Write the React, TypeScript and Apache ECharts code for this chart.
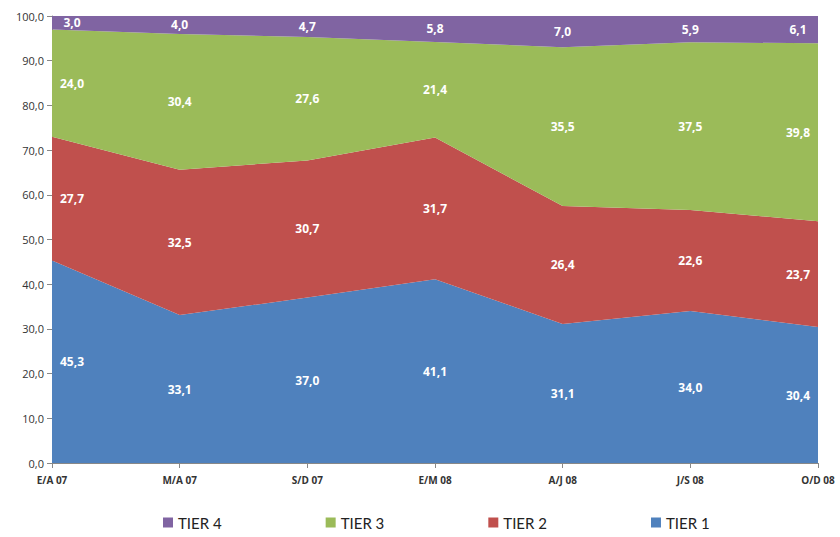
import React, { useEffect, useRef } from "react";
import * as echarts from "echarts";

const categories = ["E/A 07", "M/A 07", "S/D 07", "E/M 08", "A/J 08", "J/S 08", "O/D 08"];
const tier1 = [45.3, 33.1, 37.0, 41.1, 31.1, 34.0, 30.4];
const tier2 = [27.7, 32.5, 30.7, 31.7, 26.4, 22.6, 23.7];
const tier3 = [24.0, 30.4, 27.6, 21.4, 35.5, 37.5, 39.8];
const tier4 = [3.0, 4.0, 4.7, 5.8, 7.0, 5.9, 6.1];
const yTicks = { min: 0, max: 100, interval: 10 };

const W = 840;
const H = 537;
const GRID = { left: 52, right: 22, top: 16, bottom: 74 };

const fmt = (v: number) => v.toFixed(1).replace(".", ",");

export default function App() {
  const ref = useRef<HTMLDivElement>(null);
  useEffect(() => {
    document.body.style.margin = "0";
    const chart = echarts.init(ref.current!, null, { renderer: "svg" });
    const plotH = H - GRID.top - GRID.bottom;
    const pxPerUnit = plotH / (yTicks.max - yTicks.min);
    const n = categories.length;

    const mk = (name: string, values: number[], color: string) => ({
      name,
      type: "line",
      stack: "total",
      symbol: "circle",
      symbolSize: 0,
      lineStyle: { width: 0 },
      itemStyle: { color },
      areaStyle: { color, opacity: 1 },
      data: values.map((v, i) => ({
        value: v,
        label: {
          offset: [i === 0 ? 20 : i === n - 1 ? -20 : 0, (v * pxPerUnit) / 2],
        },
      })),
      label: {
        show: true,
        position: "inside",
        color: "#ffffff",
        fontWeight: "bold",
        fontSize: 12,
        fontFamily: "Open Sans",
        formatter: (p: any) => fmt(p.value),
      },
    });

    chart.setOption({
      animation: false,
      grid: { ...GRID, containLabel: false },
      legend: {
        bottom: 2,
        left: 158,
        itemGap: 104,
        itemWidth: 10,
        itemHeight: 10,
        icon: "rect",
        textStyle: { fontSize: 15, color: "#222", fontFamily: "Lato" },
        data: ["TIER 4", "TIER 3", "TIER 2", "TIER 1"],
      },
      xAxis: {
        type: "category",
        boundaryGap: false,
        data: categories,
        axisLine: { lineStyle: { color: "#888888" } },
        axisTick: { show: true, alignWithLabel: true, length: 5, lineStyle: { color: "#888888" } },
        axisLabel: { fontSize: 10, color: "#333", fontFamily: "Open Sans", fontWeight: "bold", margin: 12 },
        splitLine: { show: false },
      },
      yAxis: {
        type: "value",
        min: yTicks.min,
        max: yTicks.max,
        interval: yTicks.interval,
        axisLine: { show: true, lineStyle: { color: "#888888" } },
        axisTick: { show: true, length: 5, lineStyle: { color: "#888888" } },
        axisLabel: { fontSize: 11, color: "#333", fontFamily: "Open Sans", formatter: (v: number) => fmt(v), margin: 8 },
        splitLine: { show: false },
      },
      series: [
        mk("TIER 1", tier1, "#4F81BD"),
        mk("TIER 2", tier2, "#C0504D"),
        mk("TIER 3", tier3, "#9BBB59"),
        mk("TIER 4", tier4, "#8064A2"),
      ],
    });
    return () => chart.dispose();
  }, []);
  return <div ref={ref} style={{ width: W, height: H }} />;
}
